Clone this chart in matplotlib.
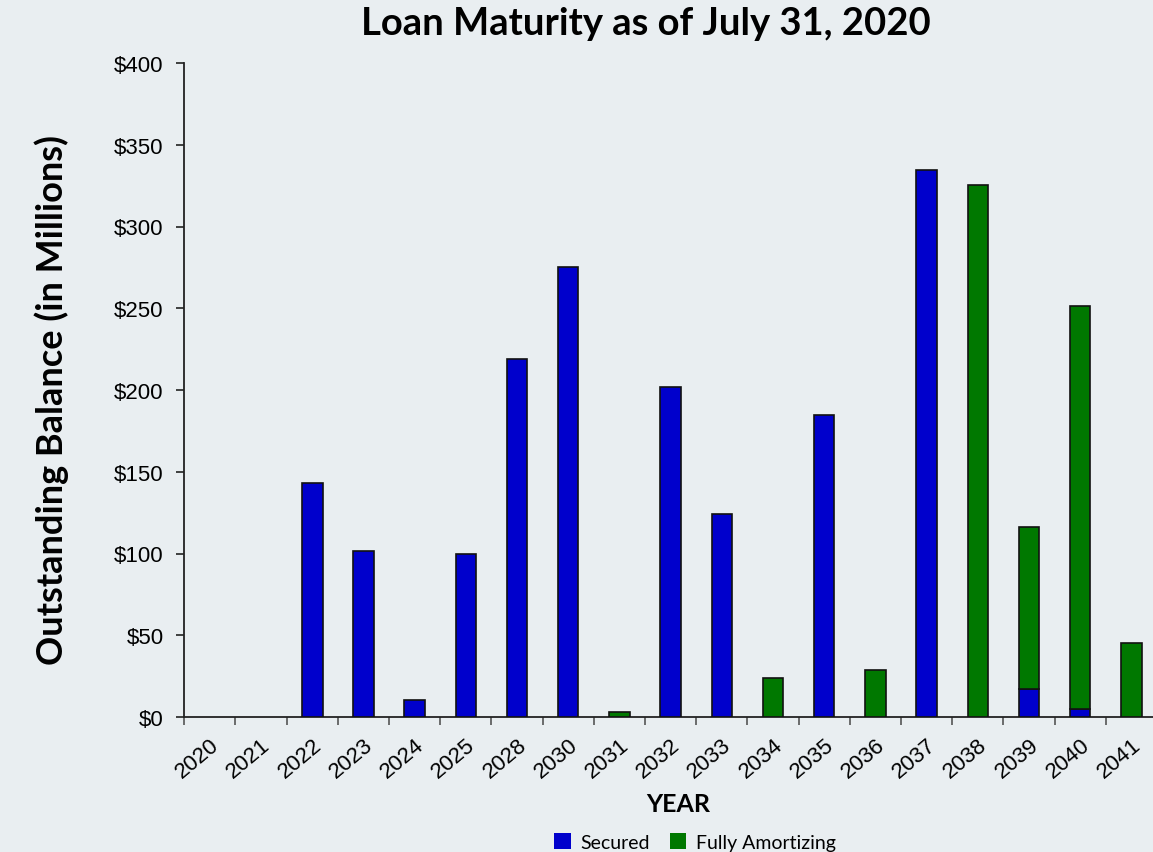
import matplotlib
matplotlib.use("Agg")
import matplotlib.pyplot as plt
import numpy as np
from matplotlib.patches import Patch

years = ["2020", "2021", "2022", "2023", "2024", "2025", "2028", "2030", "2031", "2032",
         "2033", "2034", "2035", "2036", "2037", "2038", "2039", "2040", "2041"]
secured = [0, 0, 143, 101.5, 10.5, 99.7, 219, 275, 0, 202,
           124, 0, 185, 0, 334.5, 0, 17, 5, 0]
fully_amortizing = [0, 0, 0, 0, 0, 0, 0, 0, 3.3, 0,
                    0, 24, 0, 29, 0, 325.5, 99, 246.5, 45.5]
yticks = [0, 50, 100, 150, 200, 250, 300, 350, 400]

bg = "#e9eef1"
blue = "#0000cc"
green = "#007800"

fig = plt.figure(figsize=(11.53, 8.53), dpi=100, facecolor=bg)
ax = fig.add_axes([184.3 / 1153, 1 - 718 / 853, (1157 - 184.3) / 1153, (718 - 64) / 853])
ax.set_facecolor(bg)

x = np.arange(len(years))
w = 0.4
sec = np.array(secured, dtype=float)
fa = np.array(fully_amortizing, dtype=float)
ms = sec > 0
mf = fa > 0
ax.bar(x[ms], sec[ms], width=w, color=blue, edgecolor="#111111", linewidth=1.2, zorder=3)
ax.bar(x[mf], fa[mf], width=w, bottom=sec[mf], color=green, edgecolor="#111111", linewidth=1.2, zorder=3)

ax.set_xlim(-0.5, len(years) - 0.5)
ax.set_ylim(0, 400)
ax.set_yticks(yticks)
ax.set_yticklabels([f"${v}" for v in yticks], fontsize=16, family="Liberation Sans")

ax.set_xticks(x)
ax.set_xticklabels(years, rotation=40, ha="right", rotation_mode="anchor",
                   fontsize=16, family="Liberation Sans")
ax.tick_params(axis="x", which="major", length=0, pad=12)
ax.set_xticks(np.arange(-0.5, len(years) + 0.5, 1), minor=True)
ax.tick_params(axis="x", which="minor", length=6, width=1.2, color="#555555", direction="out")
ax.tick_params(axis="y", length=6, width=1.2, color="#222222", direction="out", pad=9)

for s in ["top", "right"]:
    ax.spines[s].set_visible(False)
ax.spines["left"].set_linewidth(1.3)
ax.spines["bottom"].set_linewidth(1.3)
ax.spines["left"].set_color("#222222")
ax.spines["bottom"].set_color("#222222")

fig.text(646 / 1153, 1 - 24 / 853, "Loan Maturity as of July 31, 2020", ha="center", va="center",
         fontsize=27.5, fontweight="bold", family="Lato")
fig.text(52 / 1153, 1 - 400 / 853, "Outstanding Balance (in Millions)", ha="center", va="center",
         rotation=90, fontsize=26, fontweight="bold", family="Lato")
fig.text(678 / 1153, 1 - 805 / 853, "YEAR", ha="center", va="center",
         fontsize=18, fontweight="bold", family="Lato")

handles = [Patch(facecolor=blue, edgecolor="none"), Patch(facecolor=green, edgecolor="none")]
fig.legend(handles, ["Secured", "Fully Amortizing"], loc="center", ncol=2,
           bbox_to_anchor=(695 / 1153, 1 - 843 / 853), frameon=False,
           prop={"family": "Lato", "size": 14}, handlelength=0.85, handleheight=0.85,
           handletextpad=0.5, columnspacing=1.0, borderpad=0)

fig.savefig("out.png", dpi=100, facecolor=bg)
